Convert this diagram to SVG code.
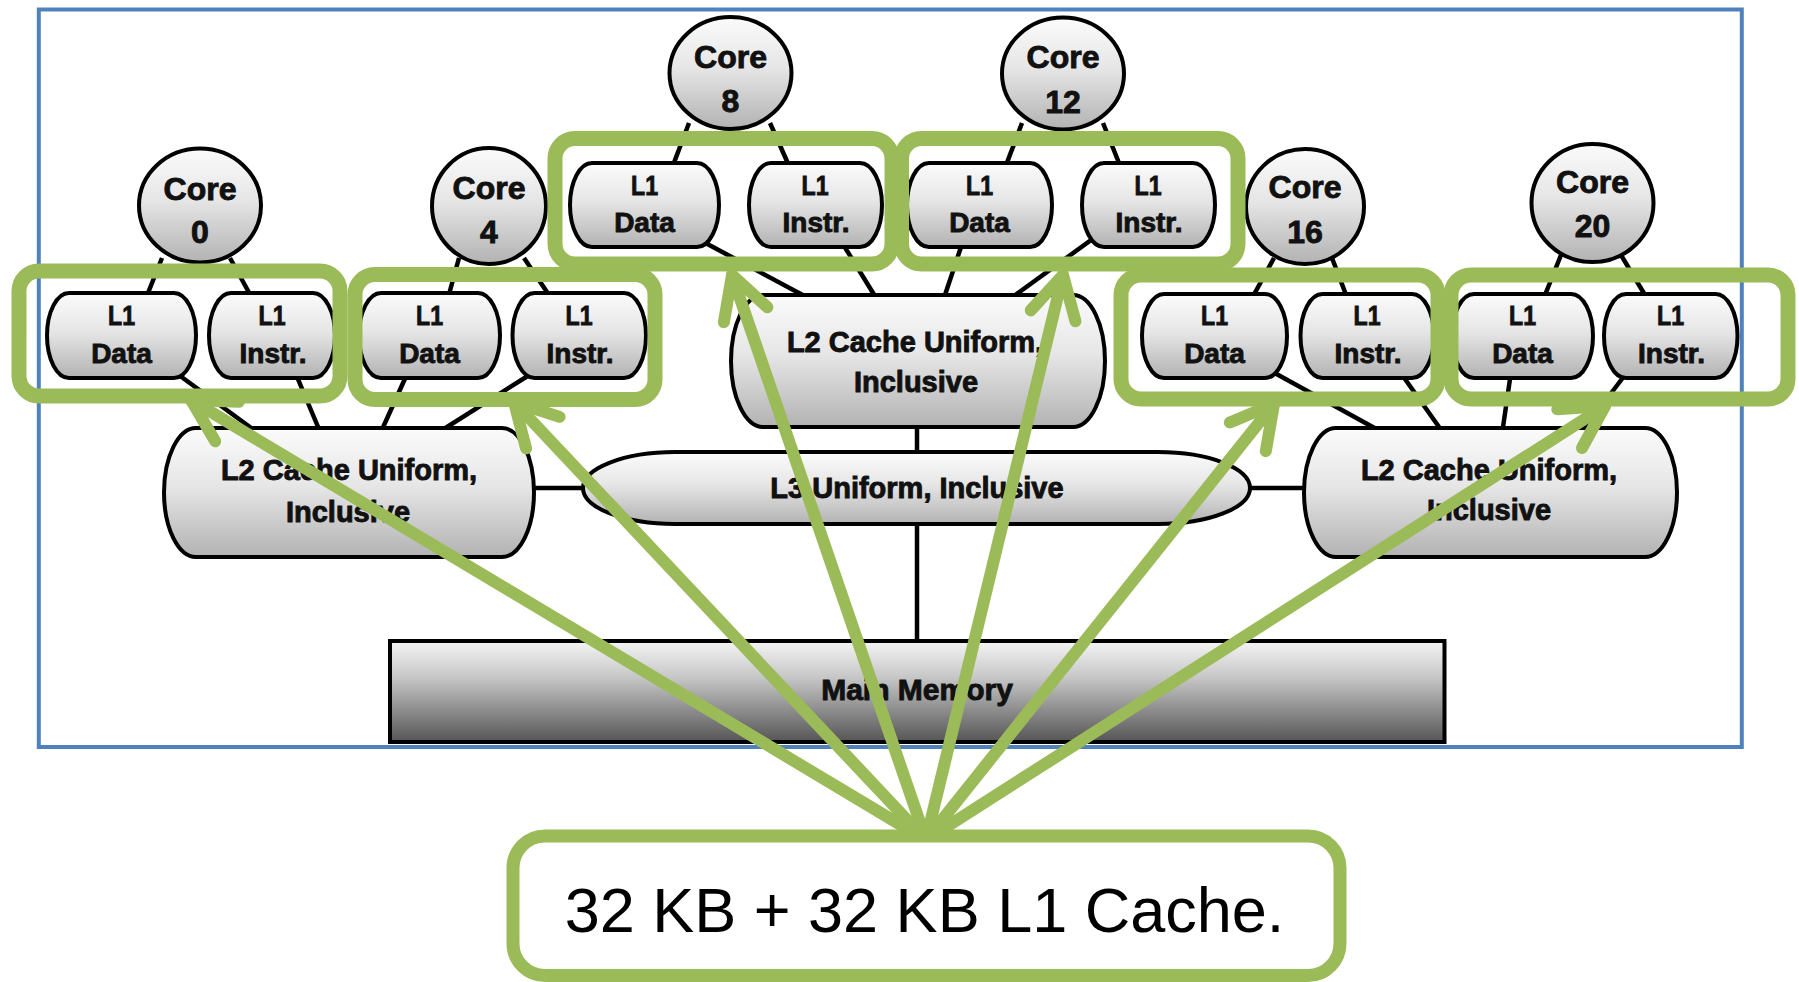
<svg xmlns="http://www.w3.org/2000/svg" width="1799" height="982" viewBox="0 0 1799 982">
  <defs>
    <linearGradient id="gNode" x1="0" y1="0" x2="0" y2="1">
      <stop offset="0" stop-color="#fbfbfb"/>
      <stop offset="0.45" stop-color="#e6e6e6"/>
      <stop offset="1" stop-color="#b2b2b2"/>
    </linearGradient>
    <linearGradient id="gMem" x1="0" y1="0" x2="0" y2="1">
      <stop offset="0" stop-color="#f4f4f4"/>
      <stop offset="0.35" stop-color="#c8c8c8"/>
      <stop offset="1" stop-color="#555555"/>
    </linearGradient>
    <marker id="vhead" markerUnits="userSpaceOnUse" orient="auto" viewBox="-60 -60 120 120" markerWidth="120" markerHeight="120" refX="0" refY="0" overflow="visible">
      <path d="M-42,-23 L0,0 L-42,23" fill="none" stroke="#9bbb59" stroke-width="12" stroke-linecap="round" stroke-linejoin="round"/>
    </marker>
    <style>
      .frame { fill: none; stroke: #4f81bd; stroke-width: 4; }
      .shape { fill: url(#gNode); stroke: #000; stroke-width: 4; }
      .mem { fill: url(#gMem); stroke: #000; stroke-width: 4; }
      .link { stroke: #000; stroke-width: 4.5; fill: none; }
      .lbl { font-family: "Liberation Sans", Arial, sans-serif; font-weight: bold; fill: #111; stroke: #111; stroke-width: 0.9; text-anchor: middle; }
      .core { font-size: 32px; }
      .l1 { font-size: 28px; }
      .l2 { font-size: 29px; }
      .grp { fill: none; stroke: #9bbb59; stroke-width: 15; }
      .arrow { stroke: #9bbb59; stroke-width: 12; stroke-linecap: round; fill: none; marker-end: url(#vhead); }
      .note { fill: #fff; stroke: #9bbb59; stroke-width: 13; }
      .noteTxt { font-family: "Liberation Sans", Arial, sans-serif; font-size: 63px; fill: #000; text-anchor: middle; }
    </style>
  </defs>

  <rect width="1799" height="982" fill="#fff"/>

  <!-- outer frame -->
  <rect id="frame" class="frame" x="38.8" y="9.5" width="1703" height="737.5"/>

  <!-- cache hierarchy links -->
  <g id="links">
    <!-- cores to L1 -->
    <line class="link" x1="162" y1="258" x2="146" y2="298"/>
    <line class="link" x1="230" y1="258" x2="252" y2="298"/>
    <line class="link" x1="459" y1="258" x2="448" y2="298"/>
    <line class="link" x1="524" y1="258" x2="551" y2="298"/>
    <line class="link" x1="689" y1="123" x2="672" y2="168"/>
    <line class="link" x1="770" y1="123" x2="790" y2="168"/>
    <line class="link" x1="1022" y1="123" x2="1005" y2="168"/>
    <line class="link" x1="1103" y1="123" x2="1121" y2="168"/>
    <line class="link" x1="1274" y1="258" x2="1251" y2="300"/>
    <line class="link" x1="1332" y1="258" x2="1348" y2="300"/>
    <line class="link" x1="1561" y1="255" x2="1543" y2="300"/>
    <line class="link" x1="1621" y1="255" x2="1648" y2="300"/>
    <!-- L1 to L2 -->
    <line class="link" x1="172" y1="370" x2="258" y2="433"/>
    <line class="link" x1="295" y1="372" x2="321" y2="434"/>
    <line class="link" x1="408" y1="372" x2="380" y2="434"/>
    <line class="link" x1="534" y1="372" x2="436" y2="434"/>
    <line class="link" x1="698" y1="239" x2="812" y2="300"/>
    <line class="link" x1="841" y1="241" x2="878" y2="301"/>
    <line class="link" x1="963" y1="241" x2="943" y2="301"/>
    <line class="link" x1="1098" y1="235" x2="1007" y2="301"/>
    <line class="link" x1="1271" y1="371" x2="1380" y2="431"/>
    <line class="link" x1="1400" y1="372" x2="1444" y2="434"/>
    <line class="link" x1="1511" y1="372" x2="1502" y2="434"/>
    <line class="link" x1="1628" y1="371" x2="1580" y2="434"/>
    <!-- L2 / L3 / memory -->
    <line class="link" x1="530" y1="488" x2="588" y2="488"/>
    <line class="link" x1="1245" y1="488" x2="1308" y2="488"/>
    <line class="link" x1="917" y1="423" x2="917" y2="456"/>
    <line class="link" x1="917" y1="520" x2="917" y2="644"/>
  </g>

  <!-- cores -->
  <g id="core0">
    <ellipse class="shape" cx="200" cy="205.5" rx="61" ry="57"/>
    <text class="lbl core" x="200" y="200">Core</text>
    <text class="lbl core" x="200" y="243">0</text>
  </g>
  <g id="core4">
    <ellipse class="shape" cx="489" cy="206" rx="57" ry="58"/>
    <text class="lbl core" x="489" y="199">Core</text>
    <text class="lbl core" x="489" y="243">4</text>
  </g>
  <g id="core8">
    <ellipse class="shape" cx="730.5" cy="73" rx="61" ry="56"/>
    <text class="lbl core" x="730.5" y="68">Core</text>
    <text class="lbl core" x="730.5" y="112">8</text>
  </g>
  <g id="core12">
    <ellipse class="shape" cx="1063" cy="73.5" rx="61" ry="56"/>
    <text class="lbl core" x="1063" y="68">Core</text>
    <text class="lbl core" x="1063" y="113">12</text>
  </g>
  <g id="core16">
    <ellipse class="shape" cx="1305" cy="206.5" rx="59" ry="57.5"/>
    <text class="lbl core" x="1305" y="198">Core</text>
    <text class="lbl core" x="1305" y="243">16</text>
  </g>
  <g id="core20">
    <ellipse class="shape" cx="1592.5" cy="203" rx="61" ry="59"/>
    <text class="lbl core" x="1592.5" y="193">Core</text>
    <text class="lbl core" x="1592.5" y="237">20</text>
  </g>

  <!-- L1 caches -->
  <g id="l1d-core0">
    <rect class="shape" x="47" y="293" width="149" height="85" rx="22" ry="42.5"/>
    <text class="lbl l1" x="121.5" y="325" textLength="27" lengthAdjust="spacingAndGlyphs">L1</text>
    <text class="lbl l1" x="121.5" y="363">Data</text>
  </g>
  <g id="l1i-core0">
    <rect class="shape" x="209" y="293" width="126" height="85" rx="22" ry="42.5"/>
    <text class="lbl l1" x="272" y="325" textLength="27" lengthAdjust="spacingAndGlyphs">L1</text>
    <text class="lbl l1" x="273" y="363">Instr.</text>
  </g>
  <g id="l1d-core4">
    <rect class="shape" x="359" y="293" width="141" height="85" rx="22" ry="42.5"/>
    <text class="lbl l1" x="429.5" y="325" textLength="27" lengthAdjust="spacingAndGlyphs">L1</text>
    <text class="lbl l1" x="429.5" y="363">Data</text>
  </g>
  <g id="l1i-core4">
    <rect class="shape" x="512.5" y="293" width="133.5" height="85" rx="22" ry="42.5"/>
    <text class="lbl l1" x="579" y="325" textLength="27" lengthAdjust="spacingAndGlyphs">L1</text>
    <text class="lbl l1" x="580" y="363">Instr.</text>
  </g>
  <g id="l1d-core8">
    <rect class="shape" x="570" y="163" width="149" height="84" rx="22" ry="42"/>
    <text class="lbl l1" x="644.5" y="195" textLength="27" lengthAdjust="spacingAndGlyphs">L1</text>
    <text class="lbl l1" x="644.5" y="232">Data</text>
  </g>
  <g id="l1i-core8">
    <rect class="shape" x="749" y="163" width="133" height="84" rx="22" ry="42"/>
    <text class="lbl l1" x="815" y="195" textLength="27" lengthAdjust="spacingAndGlyphs">L1</text>
    <text class="lbl l1" x="816" y="232">Instr.</text>
  </g>
  <g id="l1d-core12">
    <rect class="shape" x="907" y="163" width="145" height="84" rx="22" ry="42"/>
    <text class="lbl l1" x="979.5" y="195" textLength="27" lengthAdjust="spacingAndGlyphs">L1</text>
    <text class="lbl l1" x="979.5" y="232">Data</text>
  </g>
  <g id="l1i-core12">
    <rect class="shape" x="1082" y="163" width="133" height="84" rx="22" ry="42"/>
    <text class="lbl l1" x="1148" y="195" textLength="27" lengthAdjust="spacingAndGlyphs">L1</text>
    <text class="lbl l1" x="1149" y="232">Instr.</text>
  </g>
  <g id="l1d-core16">
    <rect class="shape" x="1142" y="294" width="145" height="84" rx="22" ry="42"/>
    <text class="lbl l1" x="1214.5" y="325" textLength="27" lengthAdjust="spacingAndGlyphs">L1</text>
    <text class="lbl l1" x="1214.5" y="363">Data</text>
  </g>
  <g id="l1i-core16">
    <rect class="shape" x="1300.5" y="294" width="133.5" height="84" rx="22" ry="42"/>
    <text class="lbl l1" x="1367" y="325" textLength="27" lengthAdjust="spacingAndGlyphs">L1</text>
    <text class="lbl l1" x="1368" y="363">Instr.</text>
  </g>
  <g id="l1d-core20">
    <rect class="shape" x="1452" y="294" width="141" height="84" rx="22" ry="42"/>
    <text class="lbl l1" x="1522.5" y="325" textLength="27" lengthAdjust="spacingAndGlyphs">L1</text>
    <text class="lbl l1" x="1522.5" y="363">Data</text>
  </g>
  <g id="l1i-core20">
    <rect class="shape" x="1604" y="294" width="133.5" height="84" rx="22" ry="42"/>
    <text class="lbl l1" x="1670.5" y="325" textLength="27" lengthAdjust="spacingAndGlyphs">L1</text>
    <text class="lbl l1" x="1671.5" y="363">Instr.</text>
  </g>

  <!-- L2 caches -->
  <g id="l2-left">
    <rect class="shape" x="164" y="428" width="370" height="129" rx="32" ry="64.5"/>
    <text class="lbl l2" x="349" y="480">L2 Cache Uniform,</text>
    <text class="lbl l2" x="348" y="522">Inclusive</text>
  </g>
  <g id="l2-center">
    <rect class="shape" x="731" y="295" width="374" height="132" rx="32" ry="66"/>
    <text class="lbl l2" x="915" y="352">L2 Cache Uniform,</text>
    <text class="lbl l2" x="916" y="392">Inclusive</text>
  </g>
  <g id="l2-right">
    <rect class="shape" x="1304" y="428" width="373" height="129" rx="32" ry="64.5"/>
    <text class="lbl l2" x="1489" y="480">L2 Cache Uniform,</text>
    <text class="lbl l2" x="1489" y="520">Inclusive</text>
  </g>

  <!-- L3 cache -->
  <g id="l3">
    <rect class="shape" x="583" y="452" width="667" height="72" rx="92" ry="36"/>
    <text class="lbl l2" x="917" y="498">L3 Uniform, Inclusive</text>
  </g>

  <!-- main memory -->
  <g id="main-memory">
    <rect class="mem" x="390" y="641" width="1054.5" height="101"/>
    <text class="lbl" x="917" y="700" font-size="30">Main Memory</text>
  </g>

  <!-- L1 pair groupings -->
  <g id="l1-groups">
    <rect class="grp" x="19" y="271" width="321" height="125" rx="20"/>
    <rect class="grp" x="355" y="274.5" width="300" height="125" rx="20"/>
    <rect class="grp" x="555" y="138.5" width="337" height="125.5" rx="20"/>
    <rect class="grp" x="901.5" y="138.5" width="336.5" height="125.5" rx="20"/>
    <rect class="grp" x="1121" y="275" width="317" height="124" rx="20"/>
    <rect class="grp" x="1451" y="275" width="337" height="124" rx="20"/>
  </g>

  <!-- pointers from the size note -->
  <g id="note-arrows">
    <line class="arrow" x1="926" y1="840" x2="191" y2="400"/>
    <line class="arrow" x1="926" y1="840" x2="514" y2="402"/>
    <line class="arrow" x1="926" y1="840" x2="732" y2="275"/>
    <line class="arrow" x1="926" y1="840" x2="1063" y2="275"/>
    <line class="arrow" x1="926" y1="840" x2="1274" y2="404"/>
    <line class="arrow" x1="926" y1="840" x2="1605" y2="406"/>
  </g>

  <!-- size note -->
  <g id="size-note">
    <rect class="note" x="513" y="836" width="827" height="139.5" rx="32"/>
    <text class="noteTxt" x="924.5" y="931.5">32 KB + 32 KB L1 Cache.</text>
  </g>
</svg>
